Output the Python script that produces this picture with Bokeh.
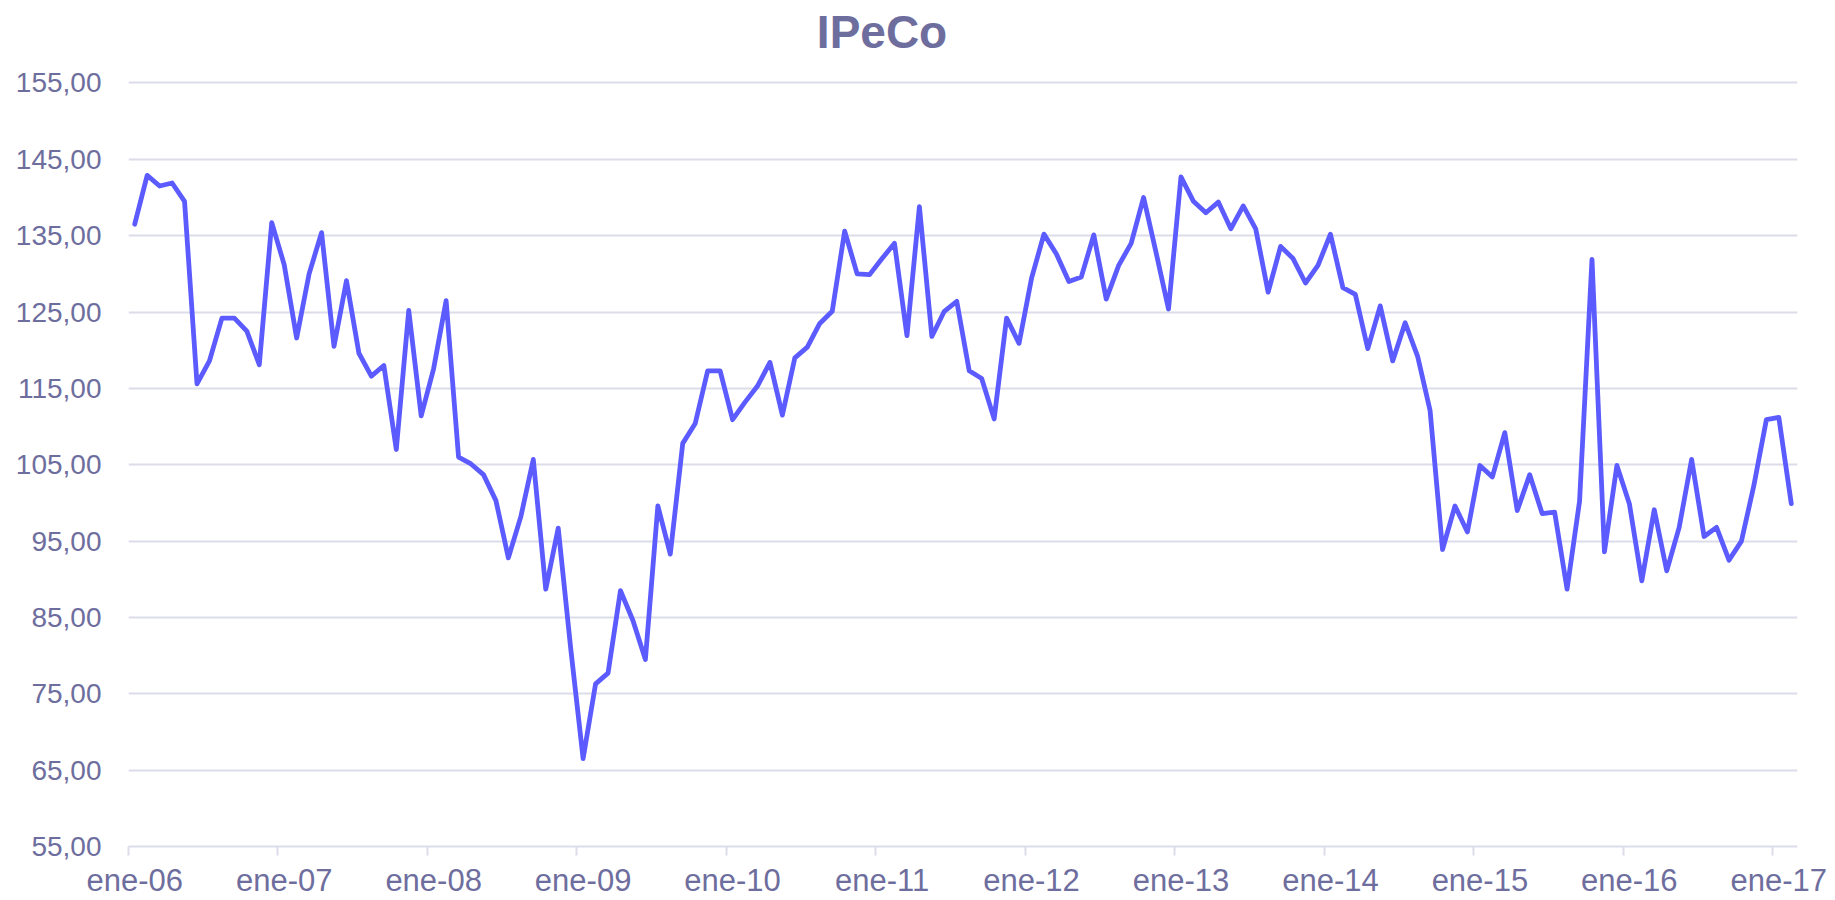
from bokeh.plotting import figure
from bokeh.models import FixedTicker, ColumnDataSource
from bokeh.core.properties import value
from bokeh.embed import file_html
from bokeh.resources import INLINE

# Monthly IPeCo values, ene-06 .. feb-17
values_2006 = [136.5, 142.9, 141.5, 141.9, 139.5, 115.6, 118.6, 124.2, 124.2, 122.5, 118.1, 136.7]
values_2007 = [131.2, 121.6, 130.0, 135.4, 120.5, 129.1, 119.6, 116.6, 118.0, 107.0, 125.2, 111.4]
values_2008 = [117.6, 126.5, 106.0, 105.1, 103.7, 100.3, 92.8, 98.2, 105.7, 88.7, 96.7, 81.0]
values_2009 = [66.5, 76.3, 77.7, 88.5, 84.6, 79.5, 99.6, 93.3, 107.8, 110.4, 117.3, 117.3]
values_2010 = [110.9, 113.2, 115.3, 118.4, 111.5, 119.0, 120.4, 123.5, 125.1, 135.6, 130.0, 129.9]
values_2011 = [132.0, 134.0, 121.9, 138.8, 121.8, 125.1, 126.4, 117.3, 116.3, 111.0, 124.2, 120.9]
values_2012 = [129.4, 135.2, 132.6, 129.0, 129.6, 135.1, 126.7, 131.1, 134.0, 140.0, 132.8, 125.4]
values_2013 = [142.7, 139.5, 138.0, 139.4, 135.9, 138.9, 135.9, 127.6, 133.6, 132.0, 128.8, 131.1]
values_2014 = [135.2, 128.2, 127.3, 120.2, 125.8, 118.6, 123.6, 119.2, 112.1, 93.9, 99.6, 96.2]
values_2015 = [104.9, 103.4, 109.2, 99.0, 103.7, 98.6, 98.8, 88.7, 100.2, 131.9, 93.6, 104.9]
values_2016 = [99.9, 89.8, 99.1, 91.1, 96.8, 105.7, 95.6, 96.8, 92.5, 95.0, 102.3, 110.9]
values_2017 = [111.2, 99.9]

values = (values_2006 + values_2007 + values_2008 + values_2009 + values_2010 + values_2011
          + values_2012 + values_2013 + values_2014 + values_2015 + values_2016 + values_2017)
months = [i + 0.5 for i in range(len(values))]   # month index, centred in each month

year_starts = [0, 12, 24, 36, 48, 60, 72, 84, 96, 108, 120, 132]
x_tick_labels = ["ene-06", "ene-07", "ene-08", "ene-09", "ene-10", "ene-11",
                 "ene-12", "ene-13", "ene-14", "ene-15", "ene-16", "ene-17"]
y_tick_pos = [55, 65, 75, 85, 95, 105, 115, 125, 135, 145, 155]
y_tick_labels = ["55,00", "65,00", "75,00", "85,00", "95,00", "105,00",
                 "115,00", "125,00", "135,00", "145,00", "155,00"]
title_text = "IPeCo"

TEXT = "#6E6E9E"
GRID = "#DCDCEA"
LINE = "#5B5BFF"
FONT = "Liberation Sans"

# frame reaches the top edge so the title can sit inside it
p = figure(width=1835, height=900, output_backend="svg", toolbar_location=None,
           x_range=(0, len(values)), y_range=(55, 165.8),
           min_border_left=128, min_border_right=38, min_border_top=0, min_border_bottom=54)
p.outline_line_color = None
p.background_fill_color = "white"
p.border_fill_color = "white"

src = ColumnDataSource(dict(x=months, y=values))
p.line("x", "y", source=src, line_color=LINE, line_width=4.8, line_join="round", line_cap="round")

# title
p.text(x=[60.5], y=[161.7], text=[title_text], text_align="center", text_baseline="alphabetic",
       text_font=value(FONT), text_font_size="46px", text_font_style="bold", text_color=TEXT)

# y axis
p.yaxis.ticker = FixedTicker(ticks=y_tick_pos)
p.yaxis.major_label_overrides = {t: l for t, l in zip(y_tick_pos, y_tick_labels)}
p.yaxis.axis_line_color = None
p.yaxis.major_tick_line_color = None
p.yaxis.major_tick_out = 0
p.yaxis.major_tick_in = 0
p.yaxis.minor_tick_line_color = None
p.yaxis.major_label_standoff = 27
p.yaxis.major_label_text_font = FONT
p.yaxis.major_label_text_font_size = "28px"
p.yaxis.major_label_text_color = TEXT

# x axis: labels centred under January, tick marks at year boundaries
label_pos = [m + 0.5 for m in year_starts]
p.xaxis.ticker = FixedTicker(ticks=label_pos, minor_ticks=year_starts)
p.xaxis.major_label_overrides = {t: l for t, l in zip(label_pos, x_tick_labels)}
p.xaxis.axis_line_color = GRID
p.xaxis.axis_line_width = 2
p.xaxis.major_tick_line_color = None
p.xaxis.major_tick_in = 0
p.xaxis.major_tick_out = 0
p.xaxis.minor_tick_line_color = GRID
p.xaxis.minor_tick_line_width = 2
p.xaxis.minor_tick_in = 0
p.xaxis.minor_tick_out = 9
p.xaxis.major_label_standoff = 7
p.xaxis.major_label_text_font = FONT
p.xaxis.major_label_text_font_size = "31px"
p.xaxis.major_label_text_color = TEXT

p.xgrid.grid_line_color = None
p.ygrid.grid_line_color = GRID
p.ygrid.grid_line_width = 2

open("out.html", "w").write(file_html(p, INLINE))
